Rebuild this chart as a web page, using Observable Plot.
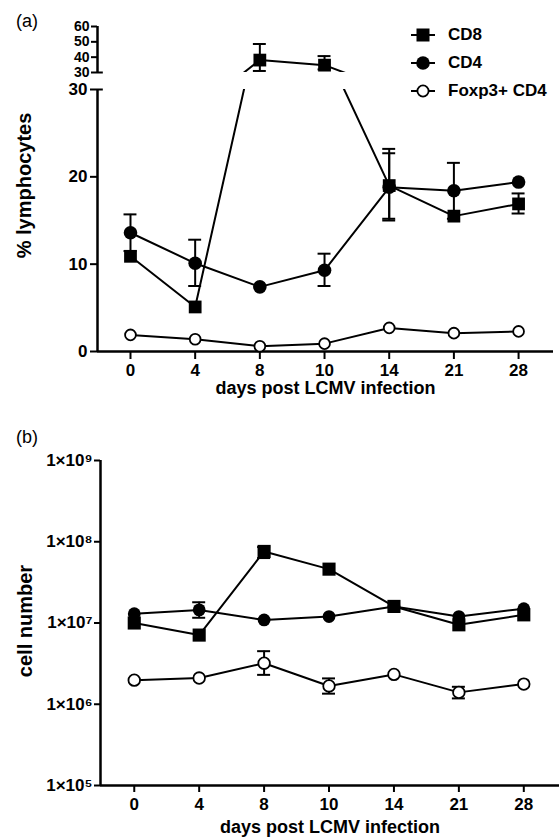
<!DOCTYPE html>
<html><head><meta charset="utf-8">
<script src="https://cdn.jsdelivr.net/npm/d3@7"></script>
<script src="https://cdn.jsdelivr.net/npm/@observablehq/plot@0.6"></script>
<style>
body{margin:0;background:#fff;}
#wrap{position:relative;width:559px;height:838px;font-family:"Liberation Sans",Arial,sans-serif;color:#000;overflow:hidden;background:#fff}
#wrap svg.plotsvg{position:absolute;left:0}
.panel{position:absolute;left:16px;font-size:18px;line-height:20px}
.legrow{position:absolute;left:408px;height:20px;display:flex;align-items:center;font-weight:bold;font-size:17px;white-space:nowrap}
.legrow span{margin-left:10px}
</style></head><body><div id="wrap"></div>
<script>
// ---- categories ----
const days = ["0","4","8","10","14","21","28"];
const names = ["CD8","CD4","Foxp3+ CD4"];
// ---- (a) % lymphocytes ----
const pctCD8   = [10.9, 5.1, 38.1, 34.8, 19.0, 15.5, 16.9];
const pctCD8Lo = [null, null, 31.0, 32.0, 15.2, null, 15.8];
const pctCD8Hi = [null, null, 48.6, 40.7, 23.2, null, 18.1];
const pctCD4   = [13.6, 10.1, 7.4, 9.3, 18.8, 18.4, 19.4];
const pctCD4Lo = [11.5, 7.5, null, 7.5, 15.0, 15.2, null];
const pctCD4Hi = [15.7, 12.8, null, 11.2, 22.7, 21.6, null];
const pctFox   = [1.9, 1.4, 0.6, 0.9, 2.7, 2.1, 2.3];
const pctTicksLow  = [0, 10, 20, 30];
const pctTicksHigh = [30, 40, 50, 60];
// ---- (b) cell number ----
const numCD8   = [1.0e7, 7.1e6, 7.6e7, 4.6e7, 1.6e7, 9.5e6, 1.26e7];
const numCD8Lo = [null, null, 6.3e7, null, null, null, null];
const numCD8Hi = [null, null, 8.6e7, null, null, null, null];
const numCD4   = [1.3e7, 1.45e7, 1.09e7, 1.2e7, 1.6e7, 1.2e7, 1.5e7];
const numCD4Lo = [null, 1.16e7, null, null, null, null, null];
const numCD4Hi = [null, 1.8e7, null, null, null, null, null];
const numFox   = [1.98e6, 2.1e6, 3.2e6, 1.68e6, 2.33e6, 1.4e6, 1.77e6];
const numFoxLo = [null, null, 2.3e6, 1.35e6, null, 1.18e6, null];
const numFoxHi = [null, null, 4.5e6, 2.08e6, null, 1.64e6, null];
const logTicks = [1e5, 1e6, 1e7, 1e8, 1e9];
const sup = {5:"\u2075",6:"\u2076",7:"\u2077",8:"\u2078",9:"\u2079"};
const xLabel = "days post LCMV infection";
const yLabelA = "% lymphocytes";
const yLabelB = "cell number";

const mk = (s, v, lo, hi) => days.map((d, i) => ({s, i, v: v[i], lo: lo ? lo[i] : null, hi: hi ? hi[i] : null}));
const aCD8 = mk("CD8", pctCD8, pctCD8Lo, pctCD8Hi);
const aCD4 = mk("CD4", pctCD4, pctCD4Lo, pctCD4Hi);
const aFox = mk("Foxp3+ CD4", pctFox);
const bCD8 = mk("CD8", numCD8, numCD8Lo, numCD8Hi);
const bCD4 = mk("CD4", numCD4, numCD4Lo, numCD4Hi);
const bFox = mk("Foxp3+ CD4", numFox, numFoxLo, numFoxHi);

const style = {background: "transparent", fontFamily: "'Liberation Sans', Arial, sans-serif", color: "black", overflow: "visible"};
const xa = [-0.51, 6.54];
const xb = [-0.52, 6.55];
const tickIdx = days.map((d, i) => i);
const CAP = 0.1;
const SW = 2;

function errMarks(rows) {
  const e = rows.filter(d => d.lo != null && d.hi != null);
  return [
    Plot.ruleX(e, {x: "i", y1: "lo", y2: "hi", strokeWidth: SW}),
    Plot.ruleY(e, {y: "hi", x1: d => d.i - CAP, x2: d => d.i + CAP, strokeWidth: SW}),
    Plot.ruleY(e, {y: "lo", x1: d => d.i - CAP, x2: d => d.i + CAP, strokeWidth: SW})
  ];
}
const labelOpts = {text: d => d, fontWeight: "bold", textAnchor: "middle", lineAnchor: "middle"};

const wrap = document.getElementById("wrap");
function place(svg, top) { svg.classList.add("plotsvg"); svg.style.top = top + "px"; svg.style.position = "absolute"; wrap.appendChild(svg); }

// ---------- (a) upper segment 30–60 ----------
const upper = aCD8.filter(d => d.v > 30);
const aTop = Plot.plot({
  width: 559, height: 80, marginLeft: 97, marginRight: 6, marginTop: 26, marginBottom: 8,
  style,
  x: {domain: xa, axis: null},
  y: {domain: [30, 60], label: null},
  marks: [
    Plot.axisY({ticks: pctTicksHigh, tickSize: 6, tickPadding: 2, fontSize: 14, fontWeight: "bold", strokeWidth: SW, label: null}),
    Plot.ruleX([xa[0]], {strokeWidth: 2.5}),
    Plot.ruleY([30], {x1: xa[0], x2: xa[0] + 0.09, strokeWidth: SW}),
    Plot.line(aCD8, {x: "i", y: "v", clip: true, strokeWidth: 2}),
    ...errMarks(upper),
    Plot.dot(upper, {x: "i", y: "v", symbol: "square", r: 7.2, fill: "black"})
  ]
});
place(aTop, 0);

// ---------- (a) lower segment 0–30 ----------
const lowCD8 = aCD8.filter(d => d.v <= 30);
const aLow = Plot.plot({
  width: 559, height: 326, marginLeft: 97, marginRight: 6, marginTop: 9, marginBottom: 55,
  style,
  x: {domain: xa},
  y: {domain: [0, 30], label: null},
  marks: [
    Plot.axisY({ticks: pctTicksLow, tickSize: 7, tickPadding: 3, fontSize: 17, fontWeight: "bold", strokeWidth: SW, label: null}),
    Plot.axisX({ticks: tickIdx, tickFormat: i => days[i], tickSize: 8, tickPadding: 4, fontSize: 17, fontWeight: "bold", strokeWidth: SW, label: null}),
    Plot.ruleX([xa[0]], {strokeWidth: 2.5}),
    Plot.ruleY([0], {strokeWidth: 2.5}),
    Plot.ruleY([30], {x1: xa[0], x2: xa[0] + 0.09, strokeWidth: SW}),
    Plot.line(aFox, {x: "i", y: "v", strokeWidth: 2}),
    Plot.line(aCD4, {x: "i", y: "v", strokeWidth: 2}),
    Plot.line(aCD8, {x: "i", y: "v", clip: true, strokeWidth: 2}),
    ...errMarks(aCD4),
    ...errMarks(lowCD8),
    Plot.dot(aCD4, {x: "i", y: "v", r: 6.8, fill: "black"}),
    Plot.dot(lowCD8, {x: "i", y: "v", symbol: "square", r: 7.2, fill: "black"}),
    Plot.dot(aFox, {x: "i", y: "v", r: 5.4, fill: "white", stroke: "black", strokeWidth: 1.8}),
    Plot.text([xLabel], {...labelOpts, frameAnchor: "bottom", dy: 37, fontSize: 18}),
    Plot.text([yLabelA], {...labelOpts, frameAnchor: "left", rotate: -90, dx: -73, dy: -35, fontSize: 20})
  ]
});
place(aLow, 80);

// ---------- (b) cell number (log) ----------
const bPlot = Plot.plot({
  width: 559, height: 408, marginLeft: 100, marginRight: 0, marginTop: 30, marginBottom: 53,
  style,
  x: {domain: xb},
  y: {type: "log", domain: [1e5, 1e9], label: null},
  marks: [
    Plot.axisY({ticks: logTicks, tickFormat: d => "1\u00d710" + sup[Math.round(Math.log10(d))], tickSize: 6, tickPadding: 2, fontSize: 17, fontWeight: "bold", strokeWidth: SW, label: null}),
    Plot.axisX({ticks: tickIdx, tickFormat: i => days[i], tickSize: 7, tickPadding: 5, fontSize: 17, fontWeight: "bold", strokeWidth: SW, label: null}),
    Plot.ruleX([xb[0]], {strokeWidth: 2.5}),
    Plot.ruleY([1e5], {strokeWidth: 2.5}),
    Plot.line(bFox, {x: "i", y: "v", strokeWidth: 2}),
    Plot.line(bCD4, {x: "i", y: "v", strokeWidth: 2}),
    Plot.line(bCD8, {x: "i", y: "v", strokeWidth: 2}),
    ...errMarks(bCD4),
    ...errMarks(bCD8),
    ...errMarks(bFox),
    Plot.dot(bCD4, {x: "i", y: "v", r: 6.4, fill: "black"}),
    Plot.dot(bCD8, {x: "i", y: "v", symbol: "square", r: 7.4, fill: "black"}),
    Plot.dot(bFox, {x: "i", y: "v", r: 5.8, fill: "white", stroke: "black", strokeWidth: 1.8}),
    Plot.text([xLabel], {...labelOpts, frameAnchor: "bottom", dy: 42, fontSize: 18}),
    Plot.text([yLabelB], {...labelOpts, frameAnchor: "left", rotate: -90, dx: -75, dy: -2, fontSize: 20})
  ]
});
place(bPlot, 430);

// ---------- panel letters ----------
[["(a)", 11], ["(b)", 427]].forEach(([t, top]) => {
  const d = document.createElement("div");
  d.className = "panel"; d.style.top = top + "px"; d.textContent = t;
  wrap.appendChild(d);
});

// ---------- legend ----------
const legendY = [35, 63, 91];
names.forEach((n, k) => {
  const row = document.createElement("div");
  row.className = "legrow";
  row.style.top = (legendY[k] - 10) + "px";
  const ns = "http://www.w3.org/2000/svg";
  const s = document.createElementNS(ns, "svg");
  s.setAttribute("width", 30); s.setAttribute("height", 20);
  const ln = document.createElementNS(ns, "line");
  ln.setAttribute("x1", 3); ln.setAttribute("x2", 27); ln.setAttribute("y1", 10); ln.setAttribute("y2", 10);
  ln.setAttribute("stroke", "black"); ln.setAttribute("stroke-width", 2);
  s.appendChild(ln);
  let m;
  if (k === 0) {
    m = document.createElementNS(ns, "rect");
    m.setAttribute("x", 8.5); m.setAttribute("y", 3.5); m.setAttribute("width", 13); m.setAttribute("height", 13);
    m.setAttribute("fill", "black");
  } else {
    m = document.createElementNS(ns, "circle");
    m.setAttribute("cx", 15); m.setAttribute("cy", 10);
    if (k === 1) { m.setAttribute("r", 6.8); m.setAttribute("fill", "black"); }
    else { m.setAttribute("r", 5.6); m.setAttribute("fill", "white"); m.setAttribute("stroke", "black"); m.setAttribute("stroke-width", 1.8); }
  }
  s.appendChild(m);
  row.appendChild(s);
  const sp = document.createElement("span"); sp.textContent = n;
  row.appendChild(sp);
  wrap.appendChild(row);
});
</script></body></html>
